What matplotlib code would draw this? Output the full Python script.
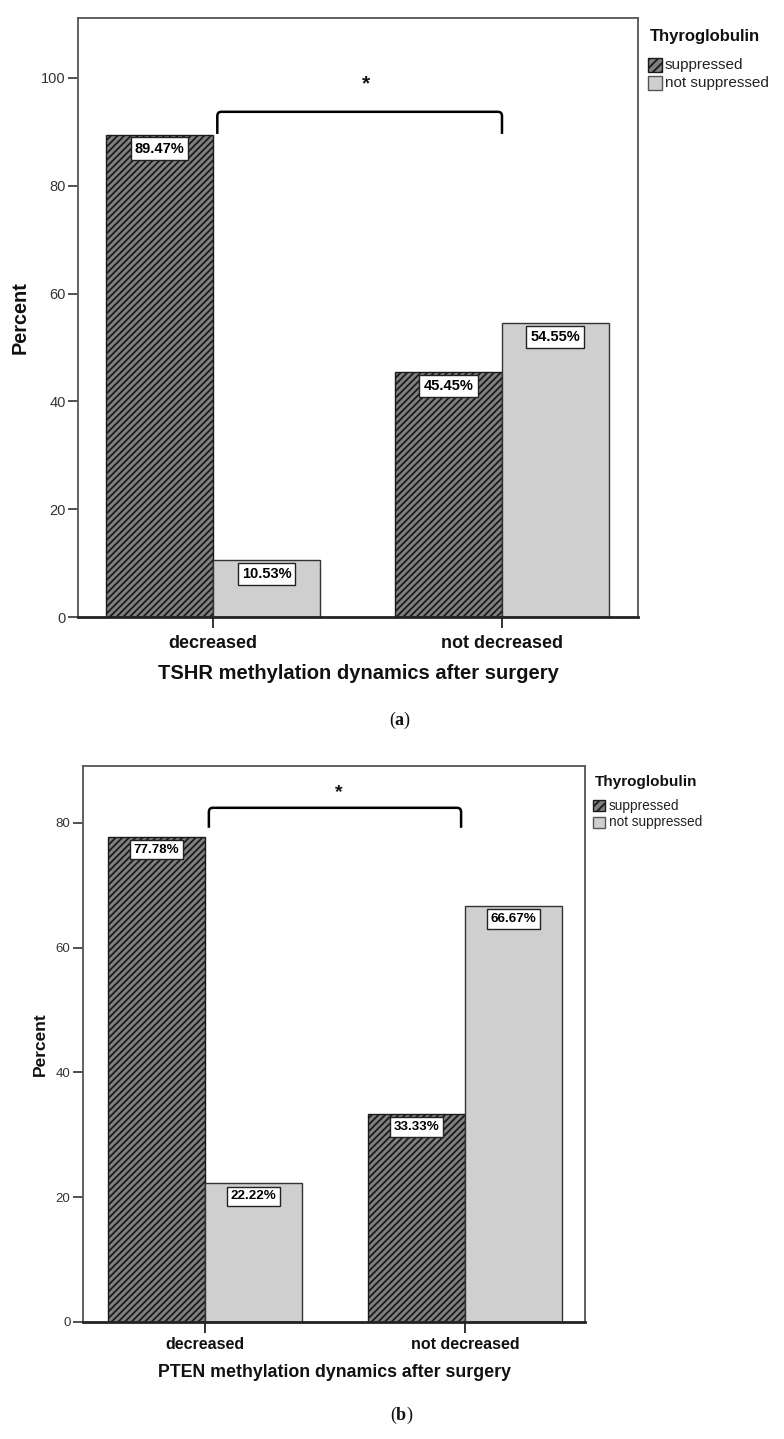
import matplotlib
matplotlib.use('Agg')
import matplotlib.pyplot as plt
from matplotlib import font_manager as fm
from matplotlib.patches import Rectangle, PathPatch
from matplotlib.path import Path

# ---------------- data ----------------
categories = ['decreased', 'not decreased']
series_names = ['suppressed', 'not suppressed']
tshr_suppressed = [89.47, 45.45]
tshr_not_suppressed = [10.53, 54.55]
pten_suppressed = [77.78, 33.33]
pten_not_suppressed = [22.22, 66.67]
yticks_a = [0, 20, 40, 60, 80, 100]
yticks_b = [0, 20, 40, 60, 80]
xlabel_a = 'TSHR methylation dynamics after surgery'
xlabel_b = 'PTEN methylation dynamics after surgery'
legend_title = 'Thyroglobulin'
ylabel = 'Percent'
panel_labels = ['a', 'b']

avail = {f.name for f in fm.fontManager.ttflist}
def pick(*names):
    for n in names:
        if n in avail:
            return n
    return 'DejaVu Sans'
SANS = pick('Liberation Sans', 'Arial')
HAS_NARROW = 'Liberation Sans Narrow' in avail
NARROW = pick('Liberation Sans Narrow', 'Liberation Sans')
SERIF = pick('Liberation Serif', 'DejaVu Serif')

plt.rcParams['font.family'] = [SANS, 'DejaVu Sans']
plt.rcParams['hatch.linewidth'] = 1.3
plt.rcParams['mathtext.fontset'] = 'custom'
plt.rcParams['mathtext.rm'] = SERIF
plt.rcParams['mathtext.bf'] = SERIF + ':bold'

W, H = 784, 1439
fig = plt.figure(figsize=(W / 100, H / 100), dpi=100)

HATCH_FACE = '#808080'
HATCH_EDGE = '#1a1a1a'
LIGHT_FACE = '#cfcfcf'
EDGE = '#333333'


def draw_panel(box, supp, notsupp, yticks, ymax, xlim, xlabel, fs, bracket, star, legend_px, letter, letter_xy):
    left, top, right, bottom = box
    ax = fig.add_axes([left / W, 1 - bottom / H, (right - left) / W, (bottom - top) / H])
    w = fs['barw']
    xs = list(range(len(categories)))
    ax.bar([x - w / 2 for x in xs], supp, width=w, facecolor=HATCH_FACE,
           edgecolor=HATCH_EDGE, hatch='/////', linewidth=1.0, zorder=2)
    ax.bar([x + w / 2 for x in xs], notsupp, width=w, facecolor=LIGHT_FACE,
           edgecolor=EDGE, linewidth=1.0, zorder=2)
    vfs = fs['val'] if HAS_NARROW else fs['val'] * 0.88
    for x, v in zip(xs, supp):
        ax.annotate(f'{v:.2f}%', xy=(x - w / 2, v), xytext=(0, -5), textcoords='offset points',
                    ha='center', va='top', fontsize=vfs, fontweight='bold', family=NARROW,
                    bbox=dict(boxstyle='square,pad=0.28', fc='white', ec='#222222', lw=1.0), zorder=4)
    for x, v in zip(xs, notsupp):
        ax.annotate(f'{v:.2f}%', xy=(x + w / 2, v), xytext=(0, -5), textcoords='offset points',
                    ha='center', va='top', fontsize=vfs, fontweight='bold', family=NARROW,
                    bbox=dict(boxstyle='square,pad=0.28', fc='white', ec='#222222', lw=1.0), zorder=4)

    ax.set_xlim(*xlim)
    ax.set_ylim(0, ymax)
    ax.set_yticks(yticks)
    ax.set_xticks(xs)
    ax.set_xticklabels(categories, fontweight='bold', fontsize=fs['xt'], color='#111111')
    ax.tick_params(axis='y', direction='out', length=7.5, width=1.2, color='#333333',
                   labelsize=fs['yt'], labelcolor='#333333', pad=1.5)
    ax.tick_params(axis='x', direction='out', length=8, width=1.3, color='#222222', pad=fs['xpad'])
    for s in ['left', 'right', 'top']:
        ax.spines[s].set_color('#555555')
        ax.spines[s].set_linewidth(1.3)
    ax.spines['bottom'].set_color('#222222')
    ax.spines['bottom'].set_linewidth(2.0)

    ax.set_ylabel(ylabel, fontweight='bold', fontsize=fs['yl'], color='#111111')
    ax.yaxis.set_label_coords(fs['ylx'], 0.5)
    ax.set_xlabel(xlabel, fontweight='bold', fontsize=fs['xl'], color='#111111')
    ax.xaxis.set_label_coords(0.5, fs['xly'])
    ax.xaxis.label.set_va('center')

    # significance bracket
    xl, xr, yh, yb = bracket
    rx, ry = fs['rx'], fs['ry']
    verts = [(xl, yb), (xl, yh - ry), (xl, yh), (xl + rx, yh), (xr - rx, yh), (xr, yh), (xr, yh - ry), (xr, yb)]
    codes = [Path.MOVETO, Path.LINETO, Path.CURVE3, Path.CURVE3, Path.LINETO, Path.CURVE3, Path.CURVE3, Path.LINETO]
    ax.add_patch(PathPatch(Path(verts, codes), fill=False, lw=1.8, ec='black', zorder=3, clip_on=False))
    ax.text(star[0], star[1], '*', ha='center', va='center', fontsize=fs['star'], fontweight='bold', color='#111111')

    # legend (drawn at figure positions)
    tx, ty, px0, pw, ph, py1, py2, lx, fs_t, fs_l = legend_px
    fig.text(tx / W, 1 - ty / H, legend_title, ha='left', va='center', fontweight='bold',
             fontsize=fs_t, color='#111111')
    fig.add_artist(Rectangle((px0 / W, 1 - (py1 + ph / 2) / H), pw / W, ph / H, transform=fig.transFigure,
                             facecolor=HATCH_FACE, edgecolor=HATCH_EDGE, hatch='////', lw=1.0))
    fig.add_artist(Rectangle((px0 / W, 1 - (py2 + ph / 2) / H), pw / W, ph / H, transform=fig.transFigure,
                             facecolor=LIGHT_FACE, edgecolor='#555555', lw=1.0))
    fig.text(lx / W, 1 - py1 / H, series_names[0], ha='left', va='center', fontsize=fs_l, color='#222222')
    fig.text(lx / W, 1 - py2 / H, series_names[1], ha='left', va='center', fontsize=fs_l, color='#222222')

    fig.text(letter_xy[0] / W, 1 - letter_xy[1] / H, r'($\mathbf{' + letter + r'}$)', ha='center', va='center',
             fontsize=13, family=SERIF, color='#111111')
    return ax


fs_a = dict(barw=0.37, val=12, xt=13, yt=10.5, yl=14.3, xl=14.5, ylx=-0.086, xly=-0.094,
            rx=0.014, ry=0.8, star=15, xpad=5)
draw_panel((78, 18, 638, 617), tshr_suppressed, tshr_not_suppressed, yticks_a, 111.1, (-0.467, 1.4706),
           xlabel_a, fs_a, (0.015, 1.0, 93.7, 89.6), (0.53, 98.9),
           (650, 37, 648, 14, 13, 65, 83, 665, 12, 11), panel_labels[0], (400, 720))

fs_b = dict(barw=0.373, val=11, xt=11.5, yt=9.5, yl=12.5, xl=12.8, ylx=-0.07, xly=-0.09,
            rx=0.015, ry=0.7, star=14, xpad=3)
draw_panel((83, 766, 585, 1322), pten_suppressed, pten_not_suppressed, yticks_b, 89.1, (-0.469, 1.4615),
           xlabel_b, fs_b, (0.015, 0.985, 82.4, 79.2), (0.515, 84.9),
           (595, 782, 593, 12, 11, 806, 822, 609, 11, 9.8), panel_labels[1], (402, 1415))

fig.savefig('out.png', dpi=100)
